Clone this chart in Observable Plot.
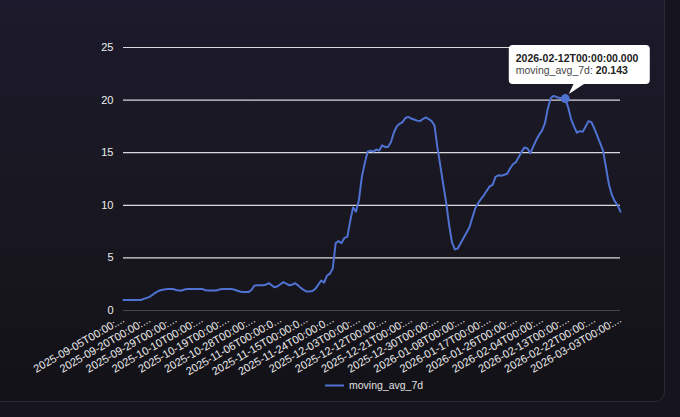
<!DOCTYPE html>
<html><head><meta charset="utf-8">
<script src="https://cdn.jsdelivr.net/npm/d3@7"></script>
<script src="https://cdn.jsdelivr.net/npm/@observablehq/plot@0.6"></script>
<style>
html,body{margin:0;padding:0;width:680px;height:417px;overflow:hidden;background:#16151d;}
#panel{position:absolute;left:-12px;top:-12px;width:675px;height:412px;border:1px solid #2b2a37;border-radius:10px;background:linear-gradient(180deg,#1c1a2c 0%,#18171f 60%,#121117 100%);}
#chart{position:absolute;left:0;top:0;}
</style></head><body><div id="panel"></div><div id="chart"></div>
<script>
const seriesName = "moving_avg_7d";
const dates = [
"2025-09-05","2025-09-06","2025-09-07","2025-09-14","2025-09-15","2025-09-16","2025-09-17","2025-09-18","2025-09-19","2025-09-20",
"2025-09-21","2025-09-22","2025-09-23","2025-09-24","2025-09-25","2025-09-26","2025-09-27","2025-09-28","2025-09-29","2025-09-30",
"2025-10-01","2025-10-02","2025-10-03","2025-10-06","2025-10-07","2025-10-08","2025-10-09","2025-10-10","2025-10-11","2025-10-12",
"2025-10-13","2025-10-14","2025-10-15","2025-10-16","2025-10-17","2025-10-18","2025-10-19","2025-10-20","2025-10-21","2025-10-22",
"2025-10-23","2025-10-24","2025-10-25","2025-10-26","2025-10-27","2025-10-28","2025-10-29","2025-10-30","2025-10-31","2025-11-01",
"2025-11-02","2025-11-03","2025-11-04","2025-11-05","2025-11-06","2025-11-07","2025-11-08","2025-11-09","2025-11-10","2025-11-11",
"2025-11-12","2025-11-13","2025-11-14","2025-11-15","2025-11-16","2025-11-17","2025-11-18","2025-11-19","2025-11-20","2025-11-21",
"2025-11-22","2025-11-23","2025-11-24","2025-11-25","2025-11-26","2025-11-27","2025-11-28","2025-11-29","2025-11-30","2025-12-01",
"2025-12-02","2025-12-03","2025-12-04","2025-12-05","2025-12-06","2025-12-07","2025-12-08","2025-12-09","2025-12-10","2025-12-11",
"2025-12-12","2025-12-13","2025-12-14","2025-12-15","2025-12-16","2025-12-17","2025-12-18","2025-12-19","2025-12-20","2025-12-21",
"2025-12-22","2025-12-23","2025-12-24","2025-12-25","2025-12-26","2025-12-27","2025-12-28","2025-12-29","2025-12-30","2025-12-31",
"2026-01-01","2026-01-02","2026-01-03","2026-01-04","2026-01-05","2026-01-06","2026-01-07","2026-01-08","2026-01-09","2026-01-10",
"2026-01-11","2026-01-12","2026-01-13","2026-01-14","2026-01-15","2026-01-16","2026-01-17","2026-01-18","2026-01-19","2026-01-20",
"2026-01-21","2026-01-22","2026-01-23","2026-01-24","2026-01-25","2026-01-26","2026-01-27","2026-01-28","2026-01-29","2026-01-30",
"2026-01-31","2026-02-01","2026-02-02","2026-02-03","2026-02-04","2026-02-05","2026-02-06","2026-02-07","2026-02-08","2026-02-09",
"2026-02-10","2026-02-11","2026-02-12","2026-02-13","2026-02-14","2026-02-15","2026-02-16","2026-02-17","2026-02-18","2026-02-19",
"2026-02-20","2026-02-21","2026-02-22","2026-02-23","2026-02-24","2026-02-25","2026-02-26","2026-02-27","2026-02-28","2026-03-01",
"2026-03-02","2026-03-03"
];
const values = [
1.0,1.0,1.0,1.0,1.0,1.0,1.0,1.1,1.2,1.3,
1.5,1.7,1.85,1.95,2.0,2.05,2.05,2.05,1.95,1.9,
1.9,2.0,2.05,2.05,2.05,2.05,2.05,2.05,1.95,1.9,
1.9,1.9,1.9,2.0,2.05,2.05,2.05,2.05,2.0,1.9,
1.8,1.75,1.75,1.75,1.95,2.35,2.4,2.4,2.4,2.45,
2.6,2.4,2.2,2.3,2.5,2.7,2.55,2.4,2.45,2.6,
2.4,2.15,1.95,1.8,1.8,1.85,2.05,2.45,2.85,2.65,
3.3,3.5,4.0,6.4,6.6,6.4,6.9,7.0,8.5,9.8,
9.4,10.5,12.7,14.0,15.1,15.2,15.1,15.3,15.2,15.7,
15.55,15.55,16.0,16.9,17.5,17.75,17.9,18.3,18.4,18.25,
18.15,18.05,18.0,18.2,18.35,18.2,18.0,17.6,15.5,13.8,
12.0,10.3,8.2,6.5,5.8,5.9,6.4,6.9,7.4,7.9,
8.8,9.7,10.2,10.6,10.95,11.4,11.8,11.95,12.7,12.85,
12.8,12.9,13.0,13.5,13.9,14.1,14.6,15.1,15.5,15.4,
14.95,15.6,16.2,16.7,17.1,17.8,19.2,20.2,20.4,20.3,
20.2,20.2,20.143,19.3,18.2,17.5,16.9,17.05,17.0,17.5,
18.0,17.9,17.3,16.6,15.9,15.2,13.6,12.0,11.0,10.4,
10.0,9.4
];
const yTicks = [0,5,10,15,20,25];
const tickDates = ["2025-09-05","2025-09-20","2025-09-29","2025-10-10","2025-10-19","2025-10-28","2025-11-06","2025-11-15","2025-11-24","2025-12-03","2025-12-12","2025-12-21","2025-12-30","2026-01-08","2026-01-17","2026-01-26","2026-02-04","2026-02-13","2026-02-22","2026-03-03"];
const tickLabels = ["2025-09-05T00:00:...","2025-09-20T00:00:...","2025-09-29T00:00:...","2025-10-10T00:00:...","2025-10-19T00:00:...","2025-10-28T00:00:...","2025-11-06T00:00:0...","2025-11-15T00:00:0...","2025-11-24T00:00:0...","2025-12-03T00:00:...","2025-12-12T00:00:...","2025-12-21T00:00:...","2025-12-30T00:00:...","2026-01-08T00:00:...","2026-01-17T00:00:...","2026-01-26T00:00:...","2026-02-04T00:00:...","2026-02-13T00:00:...","2026-02-22T00:00:...","2026-03-03T00:00:..."];
const tipDate = "2026-02-12";
const tipTitle = "2026-02-12T00:00:00.000";

const lineColor = "#4f72d2";
const data = dates.map((d,i)=>({date:d, value:values[i]}));
const labelOf = new Map(tickDates.map((d,i)=>[d, tickLabels[i]]));
const tipRow = data.filter(d=>d.date===tipDate);

const chart = Plot.plot({
  width:680, height:417, marginLeft:123, marginRight:60, marginTop:47, marginBottom:107,
  style:{background:"transparent", fontFamily:"'Liberation Sans', Arial, sans-serif", color:"#e8e8e8", overflow:"visible"},
  x:{type:"point", domain:dates, padding:0},
  y:{domain:[0,25]},
  marks:[
    Plot.gridY(yTicks.filter(t=>t>0), {stroke:"#d9d9de", strokeOpacity:1, strokeWidth:1.2}),
    Plot.ruleY([0], {stroke:"#464552", strokeWidth:1.2}),
    Plot.axisY(yTicks, {tickSize:0, tickPadding:10, fontSize:11, fill:"#ededed", label:null}),
    Plot.axisX(tickDates, {tickSize:0, tickRotate:-30, tickPadding:8, fontSize:11, fill:"#ededed", tickFormat:d=>labelOf.get(d), label:null}),
    Plot.line(data, {x:"date", y:"value", stroke:lineColor, strokeWidth:2}),
    Plot.dot(tipRow, {x:"date", y:"value", r:4.5, fill:lineColor})
  ]
});
document.getElementById("chart").appendChild(chart);

const sx = chart.scale("x"), sy = chart.scale("y");
const px = sx.apply(tipDate), py = sy.apply(tipRow[0].value);
const svg = d3.select(chart);
const g = svg.append("g").attr("font-family","'Liberation Sans', Arial, sans-serif").attr("text-anchor","start");
g.append("rect").attr("x",px-56).attr("y",py-53).attr("width",141).attr("height",39).attr("rx",4).attr("fill","#ffffff");
g.append("polygon").attr("points",`${px+9},${py-14.5} ${px+20},${py-14.5} ${px+4},${py-4}`).attr("fill","#ffffff");
g.append("text").attr("x",px-49).attr("y",py-36.5).attr("font-size",10.5).attr("font-weight","bold").attr("fill","#222").text(tipTitle);
const t2 = g.append("text").attr("x",px-49).attr("y",py-24).attr("font-size",10.5).attr("fill","#444");
t2.append("tspan").text(seriesName + ": ");
t2.append("tspan").attr("font-weight","bold").attr("fill","#222").text(d3.format(".3f")(tipRow[0].value));

const lg = svg.append("g").attr("font-family","'Liberation Sans', Arial, sans-serif").attr("text-anchor","start");
lg.append("line").attr("x1",325).attr("x2",344).attr("y1",385.5).attr("y2",385.5).attr("stroke",lineColor).attr("stroke-width",2);
lg.append("text").attr("x",349).attr("y",389).attr("font-size",10.5).attr("fill","#e0e0e0").text(seriesName);
</script></body></html>
